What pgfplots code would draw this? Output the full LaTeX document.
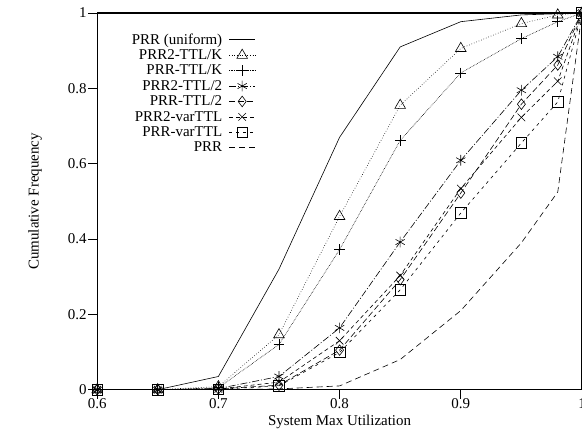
\documentclass[border=0pt]{standalone}
\usepackage{fontspec}
\setmainfont{Liberation Serif}
\usepackage{pgfplots}
\pgfplotsset{compat=1.18}
\begin{document}
\begin{tikzpicture}[x=1bp,y=1bp]
\begin{axis}[
  scale only axis,
  width=484bp, height=376bp,
  xmin=0.6, xmax=1.0, ymin=0, ymax=1,
  xtick={0.6,0.7,0.8,0.9,1.0},
  ytick={0,0.2,0.4,0.6,0.8,1},
  xticklabels={0.6,0.7,0.8,0.9,1},
  yticklabels={0,0.2,0.4,0.6,0.8,1},
  tick align=outside,
  xtick pos=bottom, ytick pos=left,
  major tick length=9bp,
  tick style={line width=0.8pt, black},
  axis line style={line width=1.2pt},
  tick label style={font=\fontsize{15}{15}\selectfont},
  xticklabel style={yshift=4bp},
  yticklabel style={xshift=2bp},
  xlabel={System Max Utilization},
  ylabel={Cumulative Frequency},
  label style={font=\fontsize{15}{15}\selectfont},
  xlabel style={at={(axis description cs:0.5,-0.086)}, anchor=center},
  ylabel style={at={(axis description cs:-0.128,0.5)}, anchor=center},
  clip=false,
  legend plot pos=right,
  legend cell align=right,
  legend style={draw=none, fill=none, at={(0.327,0.948)}, anchor=north east,
    font=\fontsize{15}{15}\selectfont, row sep=2.6bp, column sep=6bp, inner sep=0pt,
    nodes={inner sep=0.7bp}},
  every axis plot/.append style={black, line width=0.6pt, mark size=5.3bp, mark options={solid, line width=0.6pt, fill=none}},
  legend image code/.code={\draw[mark repeat=2,mark phase=2,#1] plot coordinates {(0bp,0bp) (13bp,0bp) (26bp,0bp)};},
]
\addplot[solid] coordinates {(0.6,0) (0.65,0) (0.7,0.035) (0.75,0.32) (0.8,0.67) (0.85,0.91) (0.9,0.977) (0.95,0.995) (0.98,0.998) (1.0,1)};
\addlegendentry{PRR (uniform)}
\addplot[dotted, mark=triangle, mark options={solid, line width=0.6pt, fill=none, scale=1.15}] coordinates {(0.6,0) (0.65,0) (0.7,0.008) (0.75,0.146) (0.8,0.46) (0.85,0.755) (0.9,0.906) (0.95,0.972) (0.98,0.995) (1.0,1)};
\addlegendentry{PRR2-TTL/K}
\addplot[densely dotted, mark=+] coordinates {(0.6,0) (0.65,0) (0.7,0.005) (0.75,0.12) (0.8,0.372) (0.85,0.662) (0.9,0.841) (0.95,0.932) (0.98,0.977) (1.0,1)};
\addlegendentry{PRR-TTL/K}
\addplot[dash pattern=on 7pt off 2pt on 1pt off 2pt, mark=asterisk] coordinates {(0.6,0) (0.65,0) (0.7,0.003) (0.75,0.035) (0.8,0.164) (0.85,0.392) (0.9,0.609) (0.95,0.795) (0.98,0.884) (1.0,1)};
\addlegendentry{PRR2-TTL/2}
\addplot[dash pattern=on 6pt off 3pt, mark=diamond] coordinates {(0.6,0) (0.65,0) (0.7,0.002) (0.75,0.012) (0.8,0.105) (0.85,0.292) (0.9,0.522) (0.95,0.758) (0.98,0.862) (1.0,1)};
\addlegendentry{PRR-TTL/2}
\addplot[dash pattern=on 4pt off 3pt, mark=x] coordinates {(0.6,0) (0.65,0) (0.7,0.002) (0.75,0.02) (0.8,0.13) (0.85,0.303) (0.9,0.534) (0.95,0.723) (0.98,0.819) (1.0,1)};
\addlegendentry{PRR2-varTTL}
\addplot[dash pattern=on 3pt off 4pt, mark=square] coordinates {(0.6,0) (0.65,0) (0.7,0.001) (0.75,0.01) (0.8,0.099) (0.85,0.265) (0.9,0.469) (0.95,0.655) (0.98,0.764) (1.0,1)};
\addlegendentry{PRR-varTTL}
\addplot[dash pattern=on 6pt off 4pt] coordinates {(0.6,0) (0.65,0) (0.7,0) (0.75,0.002) (0.8,0.01) (0.85,0.08) (0.9,0.21) (0.95,0.39) (0.98,0.525) (1.0,1)};
\addlegendentry{PRR}
\end{axis}
\pgfresetboundingbox
\path ([xshift=-97bp,yshift=-43bp]current axis.south west) rectangle ([yshift=13bp]current axis.north east);
\end{tikzpicture}
\end{document}
